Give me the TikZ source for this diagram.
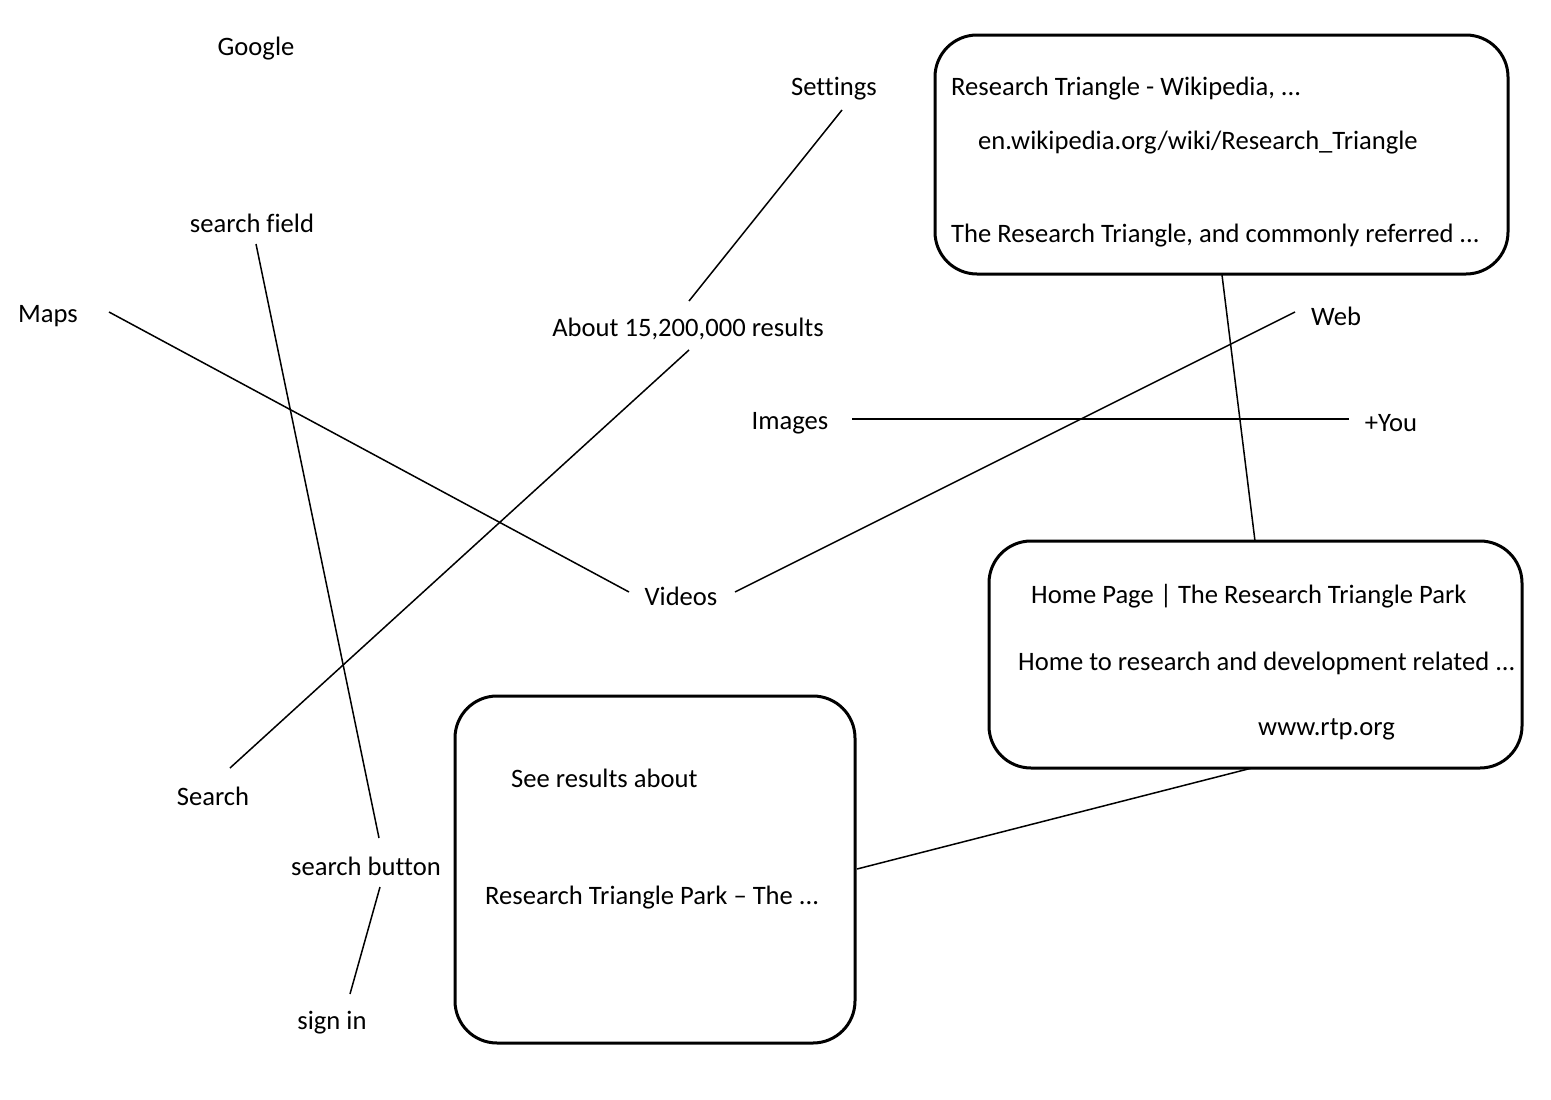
\documentclass[tikz,border=0pt]{standalone}
\usepackage{fontspec}
\setmainfont[Ligatures={NoCommon}]{Carlito}
\begin{document}
\begin{tikzpicture}[x=1pt,y=-1pt,
  lbl/.style={font=\fontsize{26.6}{30}\selectfont, inner sep=0pt},
  rbox/.style={draw, line width=3pt, rounded corners=42pt},
  conn/.style={line width=1.5pt}]
\useasboundingbox (0,0) rectangle (1551,1100);
% labels
\node[lbl] (google) at (256,49) {Google};
\node[lbl] (settings) at (834,89) {Settings};
\node[lbl] (sfield) at (252,223) {search field};
\node[lbl] (maps) at (48,316) {Maps};
\node[lbl] (about) at (688,329) {About 15,200,000 results};
\node[lbl] (web) at (1336,316) {Web};
\node[lbl] (images) at (790,423) {Images};
\node[lbl] (you) at (1391,423) {+You};
\node[lbl] (videos) at (681,596) {Videos};
\node[lbl] (search) at (213,796) {Search};
\node[lbl] (sbutton) at (366,866) {search button};
\node[lbl] (signin) at (332,1023) {sign in};
% boxes
\draw[rbox] (935,35) rectangle (1508,274);
\coordinate (b1s) at (1222,275);
\node[lbl,anchor=west] (b1a) at (951,89) {Research Triangle - Wikipedia, ...};
\node[lbl,anchor=west] (b1b) at (978,143) {en.wikipedia.org/wiki/Research\_Triangle};
\node[lbl,anchor=west] (b1c) at (951,236) {The Research Triangle, and commonly referred ...};
\draw[rbox] (989,541) rectangle (1522,768);
\coordinate (b2n) at (1255,541);
\coordinate (b2s) at (1252,768);
\node[lbl,anchor=west] (b2a) at (1031,596) {Home Page | The Research Triangle Park};
\node[lbl,anchor=west] (b2b) at (1018,663) {Home to research and development related ...};
\node[lbl,anchor=west] (b2c) at (1258,729) {www.rtp.org};
\draw[rbox] (455,696) rectangle (855,1043);
\coordinate (b3e) at (857,869);
\node[lbl,anchor=west] (b3a) at (511,778) {See results about};
\node[lbl,anchor=west] (b3b) at (485,898) {Research Triangle Park – The ...};
% connectors
\draw[conn] ([shift={(8,21)}]settings.center) -- ([shift={(1,-28)}]about.center);
\draw[conn] ([shift={(1,21)}]about.center) -- ([shift={(17,-28)}]search.center);
\draw[conn] ([shift={(4,21)}]sfield.center) -- ([shift={(13,-28)}]sbutton.center);
\draw[conn] ([shift={(61,-4)}]maps.center) -- ([shift={(-52,-4)}]videos.center);
\draw[conn] ([shift={(-41,-4)}]web.center) -- ([shift={(54,-4)}]videos.center);
\draw[conn] ([shift={(62,-4)}]images.center) -- ([shift={(-42,-4)}]you.center);
\draw[conn] (b1s) -- (b2n);
\draw[conn] (b2s) -- (b3e);
\draw[conn] ([shift={(14,21)}]sbutton.center) -- ([shift={(18,-29)}]signin.center);
\end{tikzpicture}
\end{document}
